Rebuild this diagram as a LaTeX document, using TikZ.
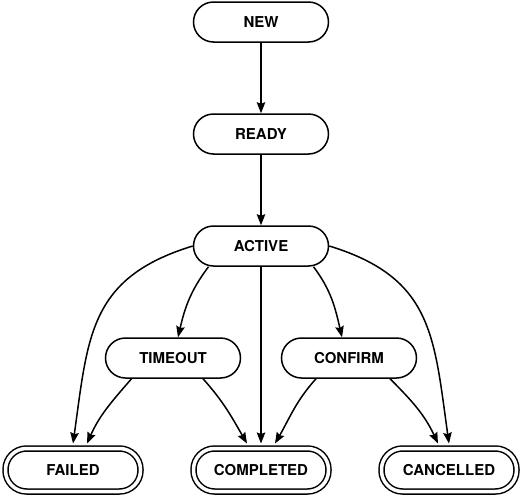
\documentclass[tikz,border=0pt]{standalone}
\usepackage{fontspec}
\setmainfont{TeX Gyre Heros}
\usetikzlibrary{arrows.meta}
\tikzset{
    state/.style={draw=black, line width=1.5pt, rounded corners=20pt, minimum width=135pt, minimum height=40pt, inner sep=0pt, font=\fontsize{15}{18}\selectfont\bfseries},
    final/.style={state, double, double distance=3.5pt, minimum height=43pt, rounded corners=21pt, outer sep=5pt},
    trans/.style={line width=1.5pt, -{Stealth[length=11pt, width=8.5pt, inset=1.5pt]}}
}
\begin{document}
\begin{tikzpicture}[x=1pt, y=1pt]
    \useasboundingbox (0,0) rectangle (523,-496);
    \node[state] (new) at (261,-22) {NEW};
    \node[state] (ready) at (261,-134) {READY};
    \node[state] (active) at (261,-246) {ACTIVE};
    \node[state] (timeout) at (173,-358) {TIMEOUT};
    \node[state] (confirm) at (349,-358) {CONFIRM};
    \node[final] (failed) at (73,-470) {FAILED};
    \node[final] (completed) at (261,-470) {COMPLETED};
    \node[final] (cancelled) at (449,-470) {CANCELLED};

    \draw[trans] (new) -- (ready);
    \draw[trans] (ready) -- (active);
    \draw[trans] (active) -- (completed);
    \draw[trans] (active.west) to[out=197, in=82, looseness=1.2] (failed.north);
    \draw[trans] ([xshift=-52.5pt]active.south) to[out=233, in=77] ([xshift=5pt]timeout.north);
    \draw[trans] ([xshift=52.5pt]active.south) to[out=307, in=103] ([xshift=-7pt]confirm.north);
    \draw[trans] (active.east) to[out=-17, in=98, looseness=1.2] (cancelled.north);
    \draw[trans] ([xshift=-41.5pt]timeout.south) to[out=229, in=66] ([xshift=14pt]failed.north);
    \draw[trans] ([xshift=30pt]timeout.south) to[out=312, in=120] ([xshift=-14pt]completed.north);
    \draw[trans] ([xshift=-33pt]confirm.south) to[out=228, in=60] ([xshift=14pt]completed.north);
    \draw[trans] ([xshift=41pt]confirm.south) to[out=315, in=115] ([xshift=-11pt]cancelled.north);
\end{tikzpicture}
\end{document}
